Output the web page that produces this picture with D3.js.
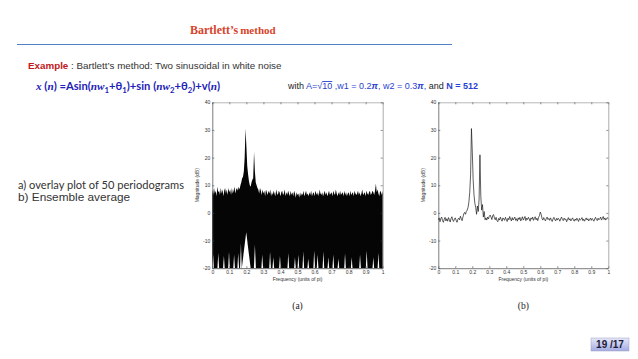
<!DOCTYPE html>
<html><head><meta charset="utf-8">
<script src="https://cdn.jsdelivr.net/npm/d3@7"></script>
<style>body{margin:0;background:#fff}svg{display:block}</style>
</head><body>
<script>
// ---------------- DATA ----------------
const freqStep = 0.005; // frequency grid (units of pi), 0..1
// (a) upper envelope of the overlay of 50 periodograms (dB)
const overlayTopDb = [
 8.5,6.5,9,7,8,6,9.5,7.5,8,6.5,
 9,7,8.5,6,8,9,7,8.5,6.5,9,
 7.5,8.5,6.5,9,7,8,9.5,7,8.5,9,
 8,9.5,8.5,10,11,12.5,13,15,20,30.5,
 24,17,14,11.5,10,9.5,11,12,12.5,22,
 15,11,10,9,8.5,7,9,8,6.5,8.5,
 7,8,6,8.5,7.5,6.5,8,7,8.5,6,
 7.5,6.5,8,7,6,8.5,7,6.5,8,7.5,
 6,7.5,8,6.5,7,8.5,6,7.5,6.5,8,
 7,6,8,6.5,7.5,6,8,7,5.5,7.5,
 6.5,7,5.5,7.5,6,7,6.5,8,6,7,
 8,6.5,7,6,7.5,6.5,8,6,7,7.5,
 6,8,7,6.5,7.5,6,8.5,7,6.5,7.5,
 6,7,8,6.5,7.5,6,7,8,6.5,7,
 7.5,6,8,7,6.5,8.5,7,6,7.5,6.5,
 8,6.5,7,7.5,6,8,6.5,7.5,6,7,
 7.5,6,8,6.5,7,7.5,6,8,7,6.5,
 7,8,6.5,7.5,6,7,8.5,6.5,7,7.5,
 6,8,7,6.5,7.5,8,6.5,7,8,7.5,
 6.5,8,10.5,7.5,8.5,7,6,8,7.5,6.5,
 8
];
// (a) white gaps rising from the floor of the black band
const gapFreq   = [0.005,0.035,0.068,0.098,0.128,0.152,0.168,0.199,0.25,0.293,0.339,0.358,0.397,0.446,0.485,0.505,0.534,0.563,0.598,0.618,0.652,0.681,0.71,0.74,0.779,0.818,0.867,0.906,0.945,0.975];
const gapTopDb  = [-15,-14.5,-15.5,-14,-15,-14.5,-11,-7,-11.5,-15,-14,-16,-15.5,-14.5,-16,-15,-14,-16.5,-13.5,-15,-14,-16,-15,-16.5,-14.5,-16,-15,-13.5,-16,-14.5];
const gapHalfW  = [0.005,0.005,0.005,0.005,0.005,0.005,0.005,0.026,0.006,0.005,0.005,0.005,0.005,0.005,0.005,0.005,0.005,0.005,0.005,0.005,0.005,0.005,0.005,0.005,0.005,0.005,0.005,0.005,0.005,0.005];
// (b) ensemble average (dB)
const averageDb = [
 -2.5,-1.8,-3.2,-2.0,-1.5,-2.8,-3.4,-2.2,-1.6,-2.9,
 -2.1,-3.0,-1.7,-2.4,-3.3,-2.0,-1.4,-2.6,-3.1,-2.2,
 -1.8,-2.7,-3.4,-2.3,-1.9,-2.5,-1.2,-2.0,-2.8,-1.5,
 -0.3,0.2,-0.5,0.5,1.0,2.0,4.0,7.5,14,30.5,
 22,12,6.5,3.5,2,-0.5,2.5,0.5,5,21,
 6,1,3,-1.5,0.5,-2.5,-1.8,-2.6,-1.5,-2.2,
 -1.2,-0.8,-1.5,-2.4,-1.0,-0.6,-1.8,-2.5,-1.6,-2.8,
 -3.2,-2.0,-2.6,-1.5,-2.3,-3.0,-1.8,-2.2,-2.7,-1.6,
 -2.4,-3.1,-1.9,-2.5,-1.3,-2.2,-2.9,-1.7,-2.6,-2.0,
 -1.5,-2.7,-2.1,-3.0,-1.8,-2.4,-1.6,-2.9,-2.2,-1.4,
 -2.6,-2.0,-1.3,-2.8,-1.9,-2.4,-1.6,-2.2,-3.0,-1.8,
 -2.3,-1.5,-2.7,-2.0,-1.4,-2.5,-1.9,-2.8,-1.6,-1.0,
 0.3,-0.5,-2.0,-2.6,-1.7,-2.3,-2.9,-2.1,-1.5,-2.4,
 -2.0,-2.7,-1.8,-2.5,-3.1,-2.2,-1.6,-2.4,-2.9,-2.0,
 -2.6,-1.9,-2.3,-3.0,-2.1,-1.5,-2.4,-2.8,-1.9,-2.5,
 -2.2,-3.2,-2.4,-1.7,-2.6,-2.1,-2.9,-2.3,-1.8,-2.6,
 -3.0,-2.2,-2.7,-1.9,-2.5,-3.1,-2.0,-2.6,-2.3,-1.7,
 -2.8,-2.2,-3.0,-2.4,-1.8,-2.6,-2.1,-2.9,-2.3,-1.9,
 -2.7,-2.0,-2.5,-3.0,-2.2,-1.6,-2.4,-2.8,-1.9,-2.5,
 -2.1,-1.5,-2.6,-2.0,-1.3,-2.4,-1.8,-2.6,-2.0,-1.7,
 -2.3
];
const xTicks = [0,0.1,0.2,0.3,0.4,0.5,0.6,0.7,0.8,0.9,1];
const xTickLabels = ["0","0.1","0.2","0.3","0.4","0.5","0.6","0.7","0.8","0.9","1"];
const yTicks = [-20,-10,0,10,20,30,40];
const yTickLabels = ["-20","-10","0","10","20","30","40"];
const xDomain = [0,1], yDomain = [-20,40];

// ---------------- DRAW ----------------
const W=638,H=359;
const svg = d3.select("body").append("svg").attr("width",W).attr("height",H);
const defs = svg.append("defs");
const grad = defs.append("linearGradient").attr("id","badge").attr("x1",0).attr("y1",0).attr("x2",0).attr("y2",1);
grad.append("stop").attr("offset","0%").attr("stop-color","#e6e8f8");
grad.append("stop").attr("offset","100%").attr("stop-color","#a3abe2");

// Title
const title = svg.append("text").attr("x",190).attr("y",34)
  .attr("font-family","Liberation Serif, serif").attr("font-weight","bold").attr("fill","#d8432a");
title.append("tspan").attr("font-size",12).text("Bartlett’s");
title.append("tspan").attr("font-size",11).attr("dx",2).text("method");
svg.append("line").attr("x1",17).attr("x2",452).attr("y1",44.5).attr("y2",44.5)
  .attr("stroke","#4f7fc4").attr("stroke-width",1);

// Example line
const ex = svg.append("text").attr("x",28).attr("y",69).attr("font-family","Liberation Sans, Arial, sans-serif").attr("font-size",9.8);
ex.append("tspan").attr("font-weight","bold").attr("fill","#c0181c").text("Example");
ex.append("tspan").attr("fill","#333").text(" : Bartlett’s method: Two sinusoidal in white noise");

// Formula
const blue="#1d22b8";
const fm = svg.append("text").attr("x",36).attr("y",90).attr("fill",blue).attr("font-family","Lato, sans-serif").attr("font-weight","bold").attr("font-size",11.2);
let shiftBack = 0;
const add = (t,italic)=>{const s=fm.append("tspan").text(t);
  if(italic) s.attr("font-style","italic").attr("font-family","Liberation Serif, serif");
  if(shiftBack){s.attr("dy",-shiftBack); shiftBack=0;} return s;};
const it = (t)=>add(t,true);
const rg = (t)=>add(t,false);
const sb = (t)=>{const s=add(t,false).attr("font-size",7.8); s.attr("dy",(+s.attr("dy")||0)+2.5); shiftBack=2.5;};
it("x"); rg(" ("); it("n"); rg(") =Asin("); it("nw"); sb("1"); rg("+θ"); sb("1"); rg(")+sin ("); it("nw"); sb("2"); rg("+θ"); sb("2"); rg(")+v("); it("n"); rg(")");

const wt = svg.append("text").attr("x",288).attr("y",89).attr("font-family","Liberation Sans, Arial, sans-serif").attr("font-size",9.0).attr("fill","#222");
const wb = "#2a3fd0";
wt.append("tspan").text("with ");
wt.append("tspan").attr("fill",wb).text("A=√");
wt.append("tspan").attr("fill",wb).attr("text-decoration","overline").text("10");
wt.append("tspan").attr("fill",wb).text(" ,w1 = 0.2");
wt.append("tspan").attr("fill",wb).attr("font-style","italic").attr("font-weight","bold").text("π");
wt.append("tspan").attr("fill",wb).text(", w2 = 0.3");
wt.append("tspan").attr("fill",wb).attr("font-style","italic").attr("font-weight","bold").text("π");
wt.append("tspan").attr("fill",wb).text(",");
wt.append("tspan").text(" and ");
wt.append("tspan").attr("fill",wb).attr("font-weight","bold").text("N = 512");

// Side notes
svg.append("text").attr("x",18).attr("y",188.5).attr("font-family","Lato, sans-serif").attr("font-size",11.1).attr("fill","#333").text("a) overlay plot of 50 periodograms");
svg.append("text").attr("x",18).attr("y",201).attr("font-family","Liberation Sans, Arial, sans-serif").attr("font-size",11.8).attr("fill","#333").text("b) Ensemble average");

// Panel helper
const freqs = overlayTopDb.map((_,i)=>i*freqStep);
function panel(x0,x1,y0,y1,label,drawFn){
  const x = d3.scaleLinear().domain(xDomain).range([x0,x1]);
  const y = d3.scaleLinear().domain(yDomain).range([y1,y0]);
  const g = svg.append("g");
  drawFn(g,x,y);
  const axStyle = (sel)=>{sel.selectAll("path.domain").attr("stroke","#444").attr("stroke-width",0.7);
    sel.selectAll(".tick line").attr("stroke","#444").attr("stroke-width",0.6);
    sel.selectAll("text").attr("font-family","Liberation Sans, Arial, sans-serif").attr("font-size",5).attr("fill","#333");};
  g.append("g").attr("transform",`translate(0,${y1})`)
    .call(d3.axisBottom(x).tickValues(xTicks).tickFormat((d,i)=>xTickLabels[i]).tickSizeInner(-2).tickSizeOuter(0).tickPadding(1.8)).call(axStyle);
  g.append("g").attr("transform",`translate(${x0},0)`)
    .call(d3.axisLeft(y).tickValues(yTicks).tickFormat((d,i)=>yTickLabels[i]).tickSizeInner(-2).tickSizeOuter(0).tickPadding(2)).call(axStyle);
  g.append("g").attr("transform",`translate(0,${y0})`)
    .call(d3.axisTop(x).tickValues(xTicks).tickFormat("").tickSizeInner(-2).tickSizeOuter(0)).call(axStyle)
    .selectAll("path.domain").attr("stroke","#999");
  g.append("g").attr("transform",`translate(${x1},0)`)
    .call(d3.axisRight(y).tickValues(yTicks).tickFormat("").tickSizeInner(-2).tickSizeOuter(0)).call(axStyle)
    .selectAll("path.domain").attr("stroke","#888");
  g.append("text").attr("x",(x0+x1)/2).attr("y",y1+12.8).attr("text-anchor","middle")
    .attr("font-family","Liberation Sans, Arial, sans-serif").attr("font-size",5).attr("fill","#333").text("Frequency (units of pi)");
  g.append("text").attr("transform",`translate(${x0-13},${(y0+y1)/2}) rotate(-90)`).attr("text-anchor","middle")
    .attr("font-family","Liberation Sans, Arial, sans-serif").attr("font-size",5).attr("fill","#333").text("Magnitude (dB)");
  svg.append("text").attr("x",(x0+x1)/2).attr("y",309).attr("text-anchor","middle")
    .attr("font-family","Liberation Serif, serif").attr("font-size",9.5).attr("fill","#222").text(label);
}

panel(212.3,382.7,102.3,268.2,"(a)",(g,x,y)=>{
  const area = d3.area().x((d,i)=>x(freqs[i])).y0(y(yDomain[0])).y1(d=>y(d));
  g.append("path").datum(overlayTopDb).attr("d",area).attr("fill","#050505");
  g.selectAll("path.gap").data(gapFreq).join("path").attr("class","gap")
    .attr("d",(f,i)=>d3.line()([[x(f-gapHalfW[i]),y(yDomain[0])],[x(f),y(gapTopDb[i])],[x(f+gapHalfW[i]),y(yDomain[0])]]))
    .attr("fill","#fff");
});
panel(438.3,608.3,102.3,268.2,"(b)",(g,x,y)=>{
  const line = d3.line().x((d,i)=>x(freqs[i])).y(d=>y(d));
  g.append("path").datum(averageDb).attr("d",line).attr("fill","none").attr("stroke","#1a1a1a").attr("stroke-width",0.7);
});

// Page badge
svg.append("rect").attr("x",591).attr("y",338).attr("width",38).attr("height",13).attr("fill","url(#badge)").attr("stroke","#9aa0c8").attr("stroke-width",0.5);
svg.append("text").attr("x",610).attr("y",348.3).attr("text-anchor","middle").attr("font-family","Liberation Sans, Arial, sans-serif")
  .attr("font-weight","bold").attr("font-size",10).attr("fill","#1c1c3a").text("19 /17");
</script>
</body></html>
